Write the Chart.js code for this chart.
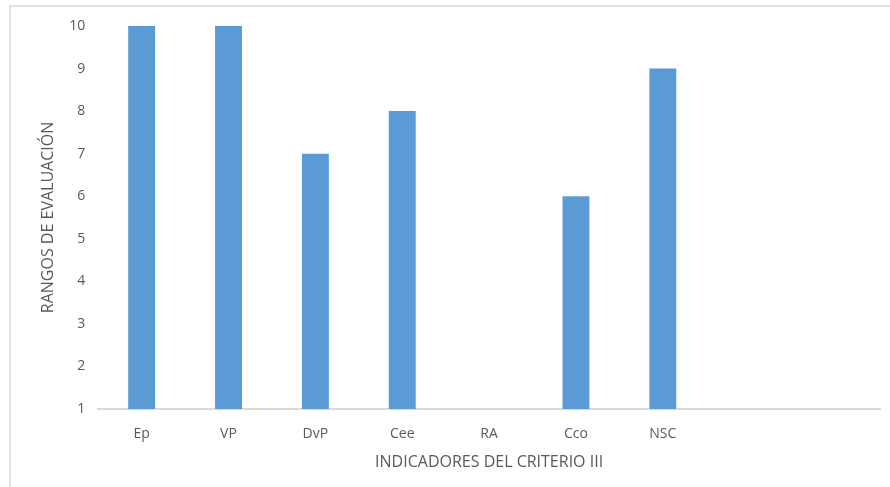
<!DOCTYPE html>
<html>
<head>
<meta charset="utf-8">
<script src="https://cdn.jsdelivr.net/npm/chart.js@4.4.1/dist/chart.umd.min.js"></script>
<style>
  html, body { margin: 0; padding: 0; background: #fff; }
  #wrap { position: relative; width: 890px; height: 487px; overflow: hidden; }
  #frame { position: absolute; left: 9px; top: 5px; width: 900px; height: 500px;
           border-top: 2px solid #e3e3e3; border-left: 2px solid #e3e3e3; box-sizing: border-box; }
  canvas { position: absolute; left: 0; top: 0; }
</style>
</head>
<body>
<div id="wrap">
  <div id="frame"></div>
  <canvas id="c" width="890" height="487"></canvas>
</div>
<script>
const categories = ["Ep", "VP", "DvP", "Cee", "RA", "Cco", "NSC", "", ""];
const values = [10, 10, 7, 8, null, 6, 9, null, null];
const yTicks = [1, 2, 3, 4, 5, 6, 7, 8, 9, 10];
const xTitle = "INDICADORES DEL CRITERIO III";
const yTitle = "RANGOS DE EVALUACIÓN";

const txt = '#595959';
const fontFam = '"Open Sans", "Liberation Sans", sans-serif';

new Chart(document.getElementById('c'), {
  type: 'bar',
  data: {
    labels: categories,
    datasets: [{
      data: values,
      backgroundColor: '#5b9bd5',
      borderWidth: 0,
      barPercentage: 0.31,
      categoryPercentage: 1.0
    }]
  },
  options: {
    responsive: false,
    animation: false,
    layout: { padding: { left: 39, right: 10, top: 26, bottom: 11 } },
    plugins: { legend: { display: false }, tooltip: { enabled: false } },
    scales: {
      x: {
        grid: { display: false, drawTicks: false },
        border: { display: true, color: '#d9d9d9', width: 2 },
        ticks: { color: txt, font: { family: fontFam, size: 14 }, padding: 17 },
        title: { display: true, text: xTitle, color: txt, font: { family: fontFam, size: 16 }, padding: { top: -7, bottom: 4 } }
      },
      y: {
        min: yTicks[0], max: yTicks[yTicks.length - 1],
        afterBuildTicks: (s) => { s.ticks = yTicks.map(v => ({ value: v })); },
        grid: { display: false, drawTicks: false },
        border: { display: false },
        ticks: { color: txt, font: { family: fontFam, size: 14 }, padding: 13 },
        title: { display: true, text: yTitle, color: txt, font: { family: fontFam, size: 16 }, padding: { top: 0, bottom: -2 } }
      }
    }
  }
});
</script>
</body>
</html>
